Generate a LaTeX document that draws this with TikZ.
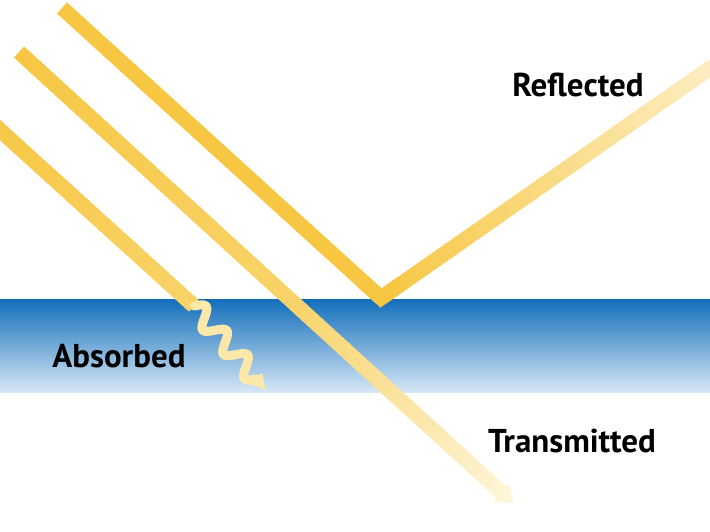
\documentclass[tikz,border=0pt]{standalone}
\usepackage{fontspec}
\setmainfont{PT Sans}
\usetikzlibrary{calc}
\definecolor{beamY}{RGB}{247,199,68}
\definecolor{midY}{RGB}{249,211,105}
\definecolor{paleY}{RGB}{253,238,196}
\definecolor{paleY2}{RGB}{254,244,214}
\definecolor{waveY}{RGB}{252,233,170}
\definecolor{blueTop}{RGB}{18,110,186}
\definecolor{blueMid}{RGB}{72,145,207}
\definecolor{blueBot}{RGB}{214,231,246}
% gradient beam: start coord, end coord, start colour, end colour, width
\newcommand{\gbeam}[5]{%
  \foreach \i in {0,...,39}{%
    \pgfmathsetmacro\ta{\i/40}%
    \pgfmathsetmacro\tb{min(1,(\i+1.6)/40)}%
    \pgfmathtruncatemacro\pc{100*(\i+0.5)/40}%
    \draw[line width=#5, color=#4!\pc!#3] ($(#1)!\ta!(#2)$) -- ($(#1)!\tb!(#2)$);
  }}
\tikzset{lbl/.style={font=\bfseries\fontsize{33}{36}\selectfont, anchor=base, inner sep=0pt, text=black}}
\begin{document}
\begin{tikzpicture}[x=1pt,y=-1pt]
\useasboundingbox (0,0) rectangle (710,532);
\clip (0,0) rectangle (710,532);
\fill[white] (0,0) rectangle (710,532);
% water band
\shade[top color=blueTop, middle color=blueMid, bottom color=blueBot] (0,299) rectangle (710,392);
% coordinates
\coordinate (B1) at (62,8);
\coordinate (V) at (381,298);
\coordinate (R1) at (716,64);
\coordinate (T0) at (19,52);
\coordinate (Tw) at (289.5,299);
\coordinate (Ttip) at (513,503);
\coordinate (Thb) at (501.2,492.2);
\coordinate (A0) at (-20,112);
\coordinate (A1) at (194,306);
% incident / reflected beam
\draw[line width=15pt, beamY] (B1) -- (V);
\gbeam{V}{R1}{beamY}{paleY}{15pt}
\draw[line width=15pt, beamY, line join=miter] ($(V)!25pt!(B1)$) -- (V) -- ($(V)!25pt!(R1)$);
% transmitted beam
\gbeam{T0}{Tw}{beamY}{midY}{15pt}
\gbeam{Tw}{Thb}{midY}{paleY2}{15pt}
\fill[paleY2] (Ttip) -- ($(Thb)!12pt!90:(Ttip)$) -- ($(Thb)!12pt!-90:(Ttip)$) -- cycle;
% absorbed beam
\gbeam{A0}{A1}{beamY}{midY}{15pt}
\begin{scope}[shift={(A1)}, rotate=-49.5]
  \draw[line width=9pt, waveY, line cap=round] plot[domain=0:96, samples=80, smooth] (\x, {-9*sin(\x*11.25)});
  \coordinate (Whb) at (95,0);
  \coordinate (Wtip) at (110,0);
\end{scope}
\fill[waveY] (Wtip) -- ($(Whb)!8.5pt!90:(Wtip)$) -- ($(Whb)!8.5pt!-90:(Wtip)$) -- cycle;
% labels
\node[lbl] (refl) at (578,97) {Reflected};
\node[lbl] (abs) at (119,367) {Absorbed};
\node[lbl] (trans) at (572,452) {Transmitted};
\end{tikzpicture}
\end{document}
